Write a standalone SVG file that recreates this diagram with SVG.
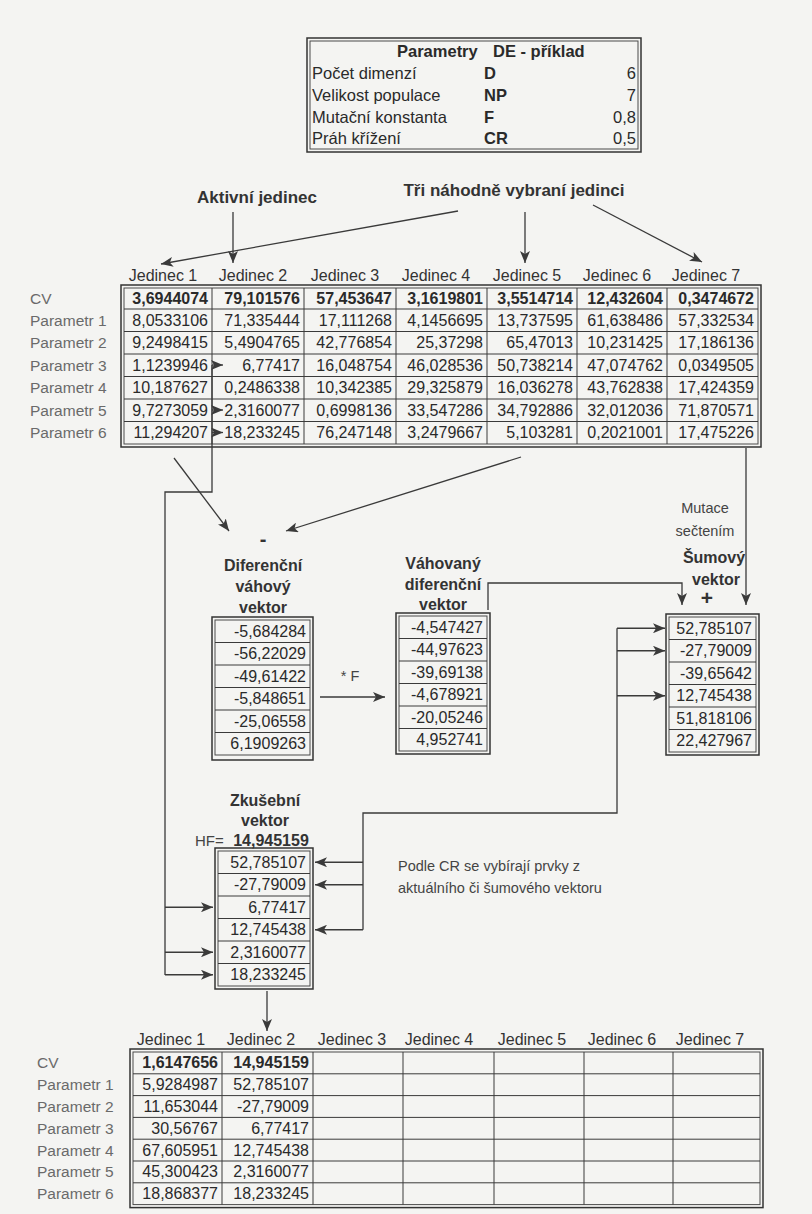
<svg xmlns="http://www.w3.org/2000/svg" width="812" height="1214" viewBox="0 0 812 1214">
<defs>
<marker id="ah" viewBox="0 0 12 10" refX="12" refY="5" markerWidth="12" markerHeight="10" markerUnits="userSpaceOnUse" orient="auto"><path d="M0,0 L12,5 L0,10 L3,5 z" fill="#3a3a3a"/></marker>
</defs>
<style>
text{font-family:"Liberation Sans",Arial,sans-serif;fill:#2a2a2a}
.n{font-size:16px;text-anchor:end}
.b{font-weight:bold}
.rl{font-size:15.5px;fill:#6a6a6a}
.hd{font-size:16px;text-anchor:middle;fill:#333}
.pt{font-size:16.5px}
.bl{font-size:17px;font-weight:bold;fill:#333}
.vl{font-size:16px;font-weight:bold;text-anchor:middle;fill:#333}
.sm{font-size:14.5px;fill:#444}
.o{fill:none;stroke:#333;stroke-width:1.5}
.i{fill:none;stroke:#4a4a4a;stroke-width:1}
.g{stroke:#3a3a3a;stroke-width:1;fill:none}
.c{stroke:#3a3a3a;stroke-width:1.3;fill:none}
.a{marker-end:url(#ah)}
</style>
<rect width="812" height="1214" fill="#f4f4f2"/>

<g id="param-box">
<rect class="o" x="307" y="38" width="334" height="114"/>
<rect class="i" x="310" y="41" width="328" height="108"/>
<text class="pt b" x="397" y="57"><tspan>Parametry </tspan><tspan x="493">DE - příklad</tspan></text>
<text class="pt" x="312" y="79">Počet dimenzí</text>
<text class="pt" x="312" y="101">Velikost populace</text>
<text class="pt" x="312" y="123">Mutační konstanta</text>
<text class="pt" x="312" y="144">Práh křížení</text>
<text class="pt b" x="484" y="79">D</text>
<text class="pt b" x="484" y="101">NP</text>
<text class="pt b" x="484" y="123">F</text>
<text class="pt b" x="484" y="144">CR</text>
<text class="pt" x="636" y="79" text-anchor="end">6</text>
<text class="pt" x="636" y="101" text-anchor="end">7</text>
<text class="pt" x="636" y="123" text-anchor="end">0,8</text>
<text class="pt" x="636" y="144" text-anchor="end">0,5</text>
</g>

<g id="label-aktivni"><text class="bl" x="257" y="203" text-anchor="middle">Aktivní jedinec</text></g>
<g id="label-tri"><text class="bl" x="514" y="196" text-anchor="middle">Tři náhodně vybraní jedinci</text></g>

<g id="table-top">
<text class="hd" x="163" y="281">Jedinec 1</text>
<text class="hd" x="253" y="281">Jedinec 2</text>
<text class="hd" x="345" y="281">Jedinec 3</text>
<text class="hd" x="436" y="281">Jedinec 4</text>
<text class="hd" x="527" y="281">Jedinec 5</text>
<text class="hd" x="617" y="281">Jedinec 6</text>
<text class="hd" x="706" y="281">Jedinec 7</text>
<text class="rl" x="30" y="304">CV</text>
<text class="rl" x="30" y="325.5">Parametr 1</text>
<text class="rl" x="30" y="348">Parametr 2</text>
<text class="rl" x="30" y="370.5">Parametr 3</text>
<text class="rl" x="30" y="393">Parametr 4</text>
<text class="rl" x="30" y="415.5">Parametr 5</text>
<text class="rl" x="30" y="438">Parametr 6</text>
<rect class="o" x="121" y="285" width="640" height="162"/>
<rect class="i" x="124" y="288" width="634" height="156"/>
<path class="g" d="M124,309H758M124,331.5H758M124,354H758M124,376.5H758M124,399H758M124,421.5H758M212,288V444M304,288V444M396,288V444M487,288V444M577,288V444M667,288V444"/>
<text class="n b" x="208" y="304">3,6944074</text><text class="n b" x="300" y="304">79,101576</text><text class="n b" x="392" y="304">57,453647</text><text class="n b" x="483" y="304">3,1619801</text><text class="n b" x="573" y="304">3,5514714</text><text class="n b" x="663" y="304">12,432604</text><text class="n b" x="754" y="304">0,3474672</text>
<text class="n" x="208" y="325.5">8,0533106</text><text class="n" x="300" y="325.5">71,335444</text><text class="n" x="392" y="325.5">17,111268</text><text class="n" x="483" y="325.5">4,1456695</text><text class="n" x="573" y="325.5">13,737595</text><text class="n" x="663" y="325.5">61,638486</text><text class="n" x="754" y="325.5">57,332534</text>
<text class="n" x="208" y="348">9,2498415</text><text class="n" x="300" y="348">5,4904765</text><text class="n" x="392" y="348">42,776854</text><text class="n" x="483" y="348">25,37298</text><text class="n" x="573" y="348">65,47013</text><text class="n" x="663" y="348">10,231425</text><text class="n" x="754" y="348">17,186136</text>
<text class="n" x="208" y="370.5">1,1239946</text><text class="n" x="300" y="370.5">6,77417</text><text class="n" x="392" y="370.5">16,048754</text><text class="n" x="483" y="370.5">46,028536</text><text class="n" x="573" y="370.5">50,738214</text><text class="n" x="663" y="370.5">47,074762</text><text class="n" x="754" y="370.5">0,0349505</text>
<text class="n" x="208" y="393">10,187627</text><text class="n" x="300" y="393">0,2486338</text><text class="n" x="392" y="393">10,342385</text><text class="n" x="483" y="393">29,325879</text><text class="n" x="573" y="393">16,036278</text><text class="n" x="663" y="393">43,762838</text><text class="n" x="754" y="393">17,424359</text>
<text class="n" x="208" y="415.5">9,7273059</text><text class="n" x="300" y="415.5">2,3160077</text><text class="n" x="392" y="415.5">0,6998136</text><text class="n" x="483" y="415.5">33,547286</text><text class="n" x="573" y="415.5">34,792886</text><text class="n" x="663" y="415.5">32,012036</text><text class="n" x="754" y="415.5">71,870571</text>
<text class="n" x="208" y="438">11,294207</text><text class="n" x="300" y="438">18,233245</text><text class="n" x="392" y="438">76,247148</text><text class="n" x="483" y="438">3,2479667</text><text class="n" x="573" y="438">5,103281</text><text class="n" x="663" y="438">0,2021001</text><text class="n" x="754" y="438">17,475226</text>
</g>

<g id="minus"><text class="vl" x="263" y="546" style="font-size:20px">-</text></g>

<g id="vec-dif">
<text class="vl" x="263" y="571">Diferenční</text>
<text class="vl" x="263" y="592">váhový</text>
<text class="vl" x="263" y="613">vektor</text>
<rect class="o" x="212" y="617" width="101" height="143"/>
<rect class="i" x="215" y="620" width="95" height="135"/>
<path class="g" d="M215,642.5H310M215,665H310M215,687.5H310M215,710H310M215,732.5H310"/>
<text class="n" x="306" y="636.75">-5,684284</text>
<text class="n" x="306" y="659.25">-56,22029</text>
<text class="n" x="306" y="681.75">-49,61422</text>
<text class="n" x="306" y="704.25">-5,848651</text>
<text class="n" x="306" y="726.75">-25,06558</text>
<text class="n" x="306" y="749.25">6,1909263</text>
</g>

<g id="label-f"><text class="sm" x="350" y="681" text-anchor="middle">* F</text></g>

<g id="vec-vah">
<text class="vl" x="443" y="569">Váhovaný</text>
<text class="vl" x="443" y="590">diferenční</text>
<text class="vl" x="443" y="610">vektor</text>
<rect class="o" x="396" y="613" width="94" height="141"/>
<rect class="i" x="399" y="616" width="88" height="135"/>
<path class="g" d="M399,638.5H487M399,661H487M399,683.5H487M399,706H487M399,728.5H487"/>
<text class="n" x="483" y="632.75">-4,547427</text>
<text class="n" x="483" y="655.25">-44,97623</text>
<text class="n" x="483" y="677.75">-39,69138</text>
<text class="n" x="483" y="700.25">-4,678921</text>
<text class="n" x="483" y="722.75">-20,05246</text>
<text class="n" x="483" y="745.25">4,952741</text>
</g>

<g id="label-mutace">
<text class="sm" x="705" y="513" text-anchor="middle">Mutace</text>
<text class="sm" x="705" y="536" text-anchor="middle">sečtením</text>
<text class="vl" x="714" y="563">Šumový</text>
<text class="vl" x="716" y="585">vektor</text>
<text class="vl" x="707" y="605" style="font-size:21px">+</text>
</g>

<g id="vec-sum">
<rect class="o" x="666" y="614" width="93" height="141"/>
<rect class="i" x="669" y="617" width="87" height="135"/>
<path class="g" d="M669,639.5H756M669,662H756M669,684.5H756M669,707H756M669,729.5H756"/>
<text class="n" x="752" y="633.75">52,785107</text>
<text class="n" x="752" y="656.25">-27,79009</text>
<text class="n" x="752" y="678.75">-39,65642</text>
<text class="n" x="752" y="701.25">12,745438</text>
<text class="n" x="752" y="723.75">51,818106</text>
<text class="n" x="752" y="746.25">22,427967</text>
</g>

<g id="vec-zk">
<text class="vl" x="265" y="806">Zkušební</text>
<text class="vl" x="265" y="826">vektor</text>
<text class="sm" x="195" y="846" style="font-size:15px">HF=</text>
<text class="vl" x="271" y="846">14,945159</text>
<rect class="o" x="215" y="848" width="98" height="141"/>
<rect class="i" x="218" y="851" width="92" height="135"/>
<path class="g" d="M218,873.5H310M218,896H310M218,918.5H310M218,941H310M218,963.5H310"/>
<text class="n" x="306" y="867.75">52,785107</text>
<text class="n" x="306" y="890.25">-27,79009</text>
<text class="n" x="306" y="912.75">6,77417</text>
<text class="n" x="306" y="935.25">12,745438</text>
<text class="n" x="306" y="957.75">2,3160077</text>
<text class="n" x="306" y="980.25">18,233245</text>
</g>

<g id="note">
<text class="sm" x="398" y="871">Podle CR se vybírají prvky z</text>
<text class="sm" x="398" y="893">aktuálního či šumového vektoru</text>
</g>

<g id="table-bottom">
<text class="hd" x="171" y="1045">Jedinec 1</text>
<text class="hd" x="261" y="1045">Jedinec 2</text>
<text class="hd" x="352" y="1045">Jedinec 3</text>
<text class="hd" x="439" y="1045">Jedinec 4</text>
<text class="hd" x="532" y="1045">Jedinec 5</text>
<text class="hd" x="622" y="1045">Jedinec 6</text>
<text class="hd" x="710" y="1045">Jedinec 7</text>
<text class="rl" x="37" y="1068.4">CV</text>
<text class="rl" x="37" y="1090.2">Parametr 1</text>
<text class="rl" x="37" y="1112">Parametr 2</text>
<text class="rl" x="37" y="1133.8">Parametr 3</text>
<text class="rl" x="37" y="1155.6">Parametr 4</text>
<text class="rl" x="37" y="1177.4">Parametr 5</text>
<text class="rl" x="37" y="1199.2">Parametr 6</text>
<rect class="o" x="130" y="1049" width="633" height="158.6"/>
<rect class="i" x="133" y="1052" width="627" height="152.6"/>
<path class="g" d="M133,1073.8H760M133,1095.6H760M133,1117.4H760M133,1139.2H760M133,1161H760M133,1182.8H760M222,1052V1204.6M313,1052V1204.6M403,1052V1204.6M494,1052V1204.6M584,1052V1204.6M673,1052V1204.6"/>
<text class="n b" x="218" y="1068.4">1,6147656</text><text class="n b" x="309" y="1068.4">14,945159</text>
<text class="n" x="218" y="1090.2">5,9284987</text><text class="n" x="309" y="1090.2">52,785107</text>
<text class="n" x="218" y="1112">11,653044</text><text class="n" x="309" y="1112">-27,79009</text>
<text class="n" x="218" y="1133.8">30,56767</text><text class="n" x="309" y="1133.8">6,77417</text>
<text class="n" x="218" y="1155.6">67,605951</text><text class="n" x="309" y="1155.6">12,745438</text>
<text class="n" x="218" y="1177.4">45,300423</text><text class="n" x="309" y="1177.4">2,3160077</text>
<text class="n" x="218" y="1199.2">18,868377</text><text class="n" x="309" y="1199.2">18,233245</text>
</g>

<g id="connectors">
<path class="c a" d="M233,212V263"/>
<path class="c a" d="M458,211L161,264"/>
<path class="c a" d="M525,212V263"/>
<path class="c a" d="M593,205L702,262"/>
<path class="c a" d="M174,458L229,531"/>
<path class="c a" d="M521,457L286,531"/>
<path class="c a" d="M320,697H385"/>
<path class="c a" d="M488,610V583H682V605"/>
<path class="c a" d="M746,448V605"/>
<path class="c" d="M212,365V492H165V975"/>
<path class="c a" d="M212,365H223"/>
<path class="c a" d="M212,410H223"/>
<path class="c a" d="M212,432.5H223"/>
<path class="c a" d="M165,907.25H213"/>
<path class="c a" d="M165,952.25H213"/>
<path class="c a" d="M165,974.75H213"/>
<path class="c" d="M617,628.25V813H363V929.75"/>
<path class="c a" d="M617,628.25H665"/>
<path class="c a" d="M617,650.75H665"/>
<path class="c a" d="M617,695.75H665"/>
<path class="c a" d="M363,862.25H315"/>
<path class="c a" d="M363,884.75H315"/>
<path class="c a" d="M363,929.75H315"/>
<path class="c a" d="M267,991V1031"/>
</g>
</svg>
